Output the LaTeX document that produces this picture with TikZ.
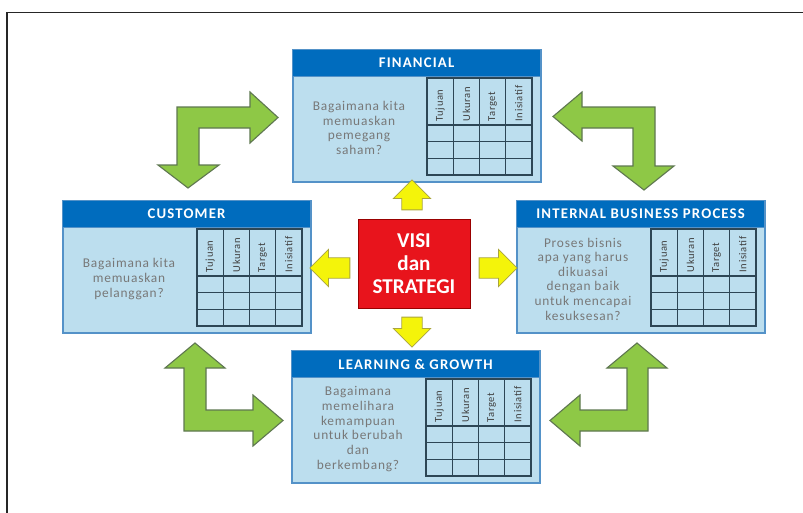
\documentclass[tikz,border=0pt]{standalone}
\usepackage{fontspec}
\setmainfont{Carlito}
\usetikzlibrary{shapes.arrows}

\definecolor{headblue}{RGB}{0,108,190}
\definecolor{bodyblue}{RGB}{188,222,238}
\definecolor{edgeblue}{RGB}{84,146,200}
\definecolor{gridline}{RGB}{45,70,85}
\definecolor{qgray}{RGB}{120,120,120}
\definecolor{visired}{RGB}{232,20,28}
\definecolor{arrowyellow}{RGB}{244,244,10}
\definecolor{yellowedge}{RGB}{170,165,60}
\definecolor{leafgreen}{RGB}{142,200,70}
\definecolor{greenedge}{RGB}{95,120,80}

\tikzset{
  panelbody/.style={draw=edgeblue, line width=1.2pt, fill=bodyblue, minimum width=6.2cm,
    minimum height=3.3cm, inner sep=0pt, anchor=north west},
  panelhead/.style={draw=edgeblue, line width=0.8pt, fill=headblue, minimum width=6.2cm,
    minimum height=0.675cm, inner sep=0pt, anchor=north west, text=white,
    font=\bfseries\fontsize{10.5}{12}\selectfont\addfontfeature{LetterSpace=8}},
  question/.style={align=center, text=qgray, inner sep=0pt,
    font=\fontsize{9.5}{10.4}\selectfont\addfontfeature{LetterSpace=6}},
  tablegrid/.style={draw=gridline, line width=0.8pt},
  collabel/.style={rotate=90, anchor=west, inner sep=1pt, text=black!75,
    font=\fontsize{7.5}{8}\selectfont\addfontfeature{LetterSpace=6}},
  visibox/.style={draw=red!60!black, line width=0.6pt, fill=visired, text=white, align=center,
    minimum width=2.8cm, minimum height=2.225cm, font=\bfseries\fontsize{15}{16.5}\selectfont},
  yarrow/.style={single arrow, draw=yellowedge, line width=0.6pt, fill=arrowyellow,
    inner xsep=0pt, inner ysep=0.245cm, single arrow head extend=0.21cm},
  bentarrow/.style={draw=greenedge, line width=0.8pt, fill=leafgreen, line join=miter}
}

% one perspective: name, left, top, title, question
\newcommand{\bscpanel}[5]{%
  \begin{scope}[shift={(#2,#3)}]
    \node[panelbody] (#1) at (0,0) {};
    \node[panelhead] (#1-title) at (0,0) {#4};
    \node[question] (#1-q) at (67,79) {#5};
    \draw[tablegrid] (135,29) rectangle (240,126);
    \foreach \cx in {161.25,187.5,213.75} \draw[tablegrid] (\cx,29) -- (\cx,126);
    \foreach \ry in {76,92.7,109.3} \draw[tablegrid] (135,\ry) -- (240,\ry);
    \foreach \lab [count=\i] in {Tujuan,Ukuran,Target,Inisiatif}
      \node[collabel] (#1-c\i) at (135+26.25*\i-13.125,74) {\lab};
  \end{scope}}

\begin{document}
\begin{tikzpicture}[x=0.025cm, y=-0.025cm]
\useasboundingbox (0,0) rectangle (803,513);
\fill[white] (0,0) rectangle (803,513);
\draw[line width=0.9pt, black!85] (7,513) -- (7,12.5) -- (803,12.5);

\bscpanel{fin}{292}{49}{FINANCIAL}{Bagaimana kita\\memuaskan\\pemegang\\saham?}
\bscpanel{cust}{62}{200}{CUSTOMER}{Bagaimana kita\\memuaskan\\pelanggan?}
\bscpanel{ibp}{516}{200}{INTERNAL BUSINESS PROCESS}{Proses bisnis\\apa yang harus\\dikuasai\\dengan baik\\untuk mencapai\\kesuksesan?}
\bscpanel{lg}{291}{350}{LEARNING \& GROWTH}{Bagaimana\\memelihara\\kemampuan\\untuk berubah\\dan\\berkembang?}

\node[visibox] (visi) at (414,263.5) {VISI\\dan\\STRATEGI};

\node[yarrow, minimum height=0.75cm, rotate=90] (toFin) at (412,200) {};
\node[yarrow, minimum height=0.75cm, rotate=-90] (toLg) at (412,327) {};
\node[yarrow, minimum height=1cm, rotate=180] (toCust) at (335,268) {};
\node[yarrow, minimum height=0.95cm] (toIbp) at (493,268) {};

\draw[bentarrow] (177,107) -- (250,107) -- (250,92) -- (278,117.5) -- (250,143) -- (250,128)
  -- (199,128) -- (199,165) -- (219,165) -- (188,188) -- (158,165) -- (177,165) -- cycle;
\draw[bentarrow] (655,107) -- (582,107) -- (582,92) -- (553,116.5) -- (582,141) -- (582,128)
  -- (633,128) -- (633,166) -- (613,166) -- (644,190) -- (674,166) -- (655,166) -- cycle;
\draw[bentarrow] (184,431) -- (184,368) -- (165,368) -- (195,343) -- (225,368) -- (206,368)
  -- (206,410) -- (253,410) -- (253,395) -- (283,420.5) -- (253,446) -- (253,431) -- cycle;
\draw[bentarrow] (648,431) -- (648,368) -- (667,368) -- (637,343) -- (607,368) -- (627,368)
  -- (627,410) -- (580,410) -- (580,395) -- (550,420.5) -- (580,446) -- (580,431) -- cycle;
\end{tikzpicture}
\end{document}
